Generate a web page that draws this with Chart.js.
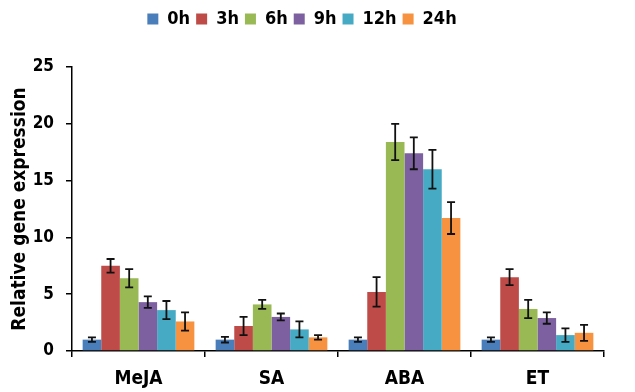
<!DOCTYPE html>
<html>
<head>
<meta charset="utf-8">
<script src="https://cdn.jsdelivr.net/npm/chart.js@4.4.1/dist/chart.umd.min.js"></script>
<style>
  html, body { margin: 0; padding: 0; background: #fff; }
  #wrap { width: 635px; height: 392px; }
</style>
</head>
<body>
<div id="wrap"><canvas id="myChart-bar"></canvas></div>
<script>
const categories = ["MeJA", "SA", "ABA", "ET"];
const timePoints = ["0h", "3h", "6h", "9h", "12h", "24h"];

// mean values per time point, one entry per treatment
const values0h = [1.0, 1.0, 1.0, 1.0];
const values3h = [7.5, 2.2, 5.2, 6.5];
const values6h = [6.4, 4.1, 18.4, 3.7];
const values9h = [4.3, 3.0, 17.4, 2.9];
const values12h = [3.6, 1.9, 16.0, 1.4];
const values24h = [2.6, 1.2, 11.7, 1.6];

// error bar (+/-)
const err0h = [0.2, 0.25, 0.2, 0.2];
const err3h = [0.6, 0.8, 1.3, 0.7];
const err6h = [0.8, 0.4, 1.6, 0.8];
const err9h = [0.5, 0.3, 1.4, 0.5];
const err12h = [0.8, 0.7, 1.7, 0.6];
const err24h = [0.8, 0.2, 1.4, 0.7];

const yTicks = [0, 5, 10, 15, 20, 25];

const colors = ["#4a7ebb", "#be4b48", "#98b954", "#7d60a0", "#46aac5", "#f69240"];
const allValues = [values0h, values3h, values6h, values9h, values12h, values24h];
const allErrors = [err0h, err3h, err6h, err9h, err12h, err24h];

const fontFamily = "'Liberation Sans Narrow', 'DejaVu Sans Condensed', sans-serif";

// error bars drawn from the scales
const errorBars = {
  id: "error-bars",
  afterDatasetsDraw(chart) {
    const ctx = chart.ctx;
    const yScale = chart.scales.y;
    ctx.save();
    ctx.strokeStyle = "#111";
    ctx.lineWidth = 1.8;
    chart.data.datasets.forEach((ds, i) => {
      const meta = chart.getDatasetMeta(i);
      meta.data.forEach((bar, j) => {
        const v = ds.data[j];
        const e = ds.errors[j];
        const yTop = yScale.getPixelForValue(v + e);
        const yBot = yScale.getPixelForValue(v - e);
        const cap = 4;
        ctx.beginPath();
        ctx.moveTo(bar.x, yTop);
        ctx.lineTo(bar.x, yBot);
        ctx.moveTo(bar.x - cap, yTop);
        ctx.lineTo(bar.x + cap, yTop);
        ctx.moveTo(bar.x - cap, yBot);
        ctx.lineTo(bar.x + cap, yBot);
        ctx.stroke();
      });
    });
    ctx.restore();
  },
};

// extra room under the legend
const legendSpace = {
  id: "legend-space",
  beforeInit(chart) {
    const fit = chart.legend.fit;
    chart.legend.fit = function () {
      fit.bind(chart.legend)();
      this.height += 29;
    };
  },
};

const ctx = document.getElementById("myChart-bar").getContext("2d");
const myChart = new Chart(ctx, {
  type: "bar",
  data: {
    labels: categories,
    datasets: timePoints.map((t, i) => ({
      label: t,
      data: allValues[i],
      errors: allErrors[i],
      backgroundColor: colors[i],
      borderWidth: 0,
      barPercentage: 1.0,
      categoryPercentage: 0.84,
    })),
  },
  options: {
    responsive: true,
    maintainAspectRatio: false,
    animation: false,
    layout: {
      padding: { top: 4, right: 31, bottom: 0, left: 0 },
    },
    scales: {
      x: {
        grid: {
          display: true,
          offset: true,
          drawOnChartArea: false,
          drawTicks: true,
          tickLength: 6,
          color: "#000",
          lineWidth: 1.5,
        },
        border: { color: "#000", width: 1.5 },
        ticks: {
          color: "#000",
          padding: 11,
          font: { family: fontFamily, size: 19, weight: "bold" },
        },
        afterFit(scale) {
          scale.height = 41;
        },
      },
      y: {
        min: 0,
        max: 25,
        afterBuildTicks(scale) {
          scale.ticks = yTicks.map((v) => ({ value: v }));
        },
        grid: {
          display: true,
          drawOnChartArea: false,
          drawTicks: true,
          tickLength: 6,
          color: "#000",
          lineWidth: 1.5,
        },
        border: { color: "#000", width: 1.5 },
        ticks: {
          color: "#000",
          padding: 12,
          font: { family: fontFamily, size: 17, weight: "bold" },
        },
        title: {
          display: true,
          text: "Relative gene expression",
          color: "#000",
          padding: { top: 9, bottom: 0 },
          font: { family: fontFamily, size: 19, weight: "bold" },
        },
        afterFit(scale) {
          scale.width = 72;
        },
      },
    },
    plugins: {
      legend: {
        display: true,
        position: "top",
        labels: {
          color: "#000",
          boxWidth: 11,
          boxHeight: 11,
          padding: 6,
          font: { family: fontFamily, size: 18, weight: "bold" },
        },
      },
      tooltip: { enabled: false },
    },
  },
  plugins: [errorBars, legendSpace],
});
</script>
</body>
</html>
